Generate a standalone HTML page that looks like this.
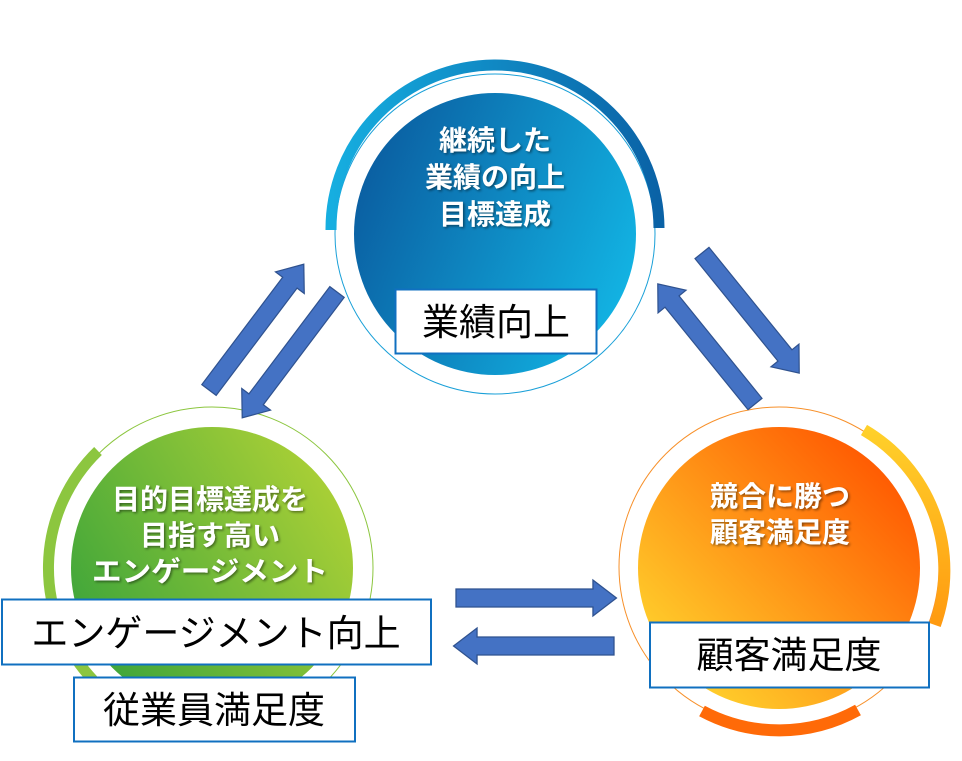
<!DOCTYPE html>
<html><head><meta charset="utf-8"><style>
body{margin:0;background:#fff;}
svg{display:block;font-family:"Liberation Sans","Noto Sans CJK JP",sans-serif;}
.w{fill:#fff;font-weight:bold;font-size:28px;text-anchor:middle;filter:url(#sh);}
.b{font-size:37px;text-anchor:middle;fill:#000;}
</style></head><body>
<svg width="962" height="761" viewBox="0 0 962 761">
<defs>
<filter id="sh" x="-10%" y="-20%" width="120%" height="150%"><feDropShadow dx="1.5" dy="1.5" stdDeviation="1.2" flood-color="#000" flood-opacity="0.45"/></filter>
<linearGradient id="gb" x1="0" y1="0.2" x2="1" y2="0.6"><stop offset="0" stop-color="#0a5a9e"/><stop offset="1" stop-color="#12b2e2"/></linearGradient>
<linearGradient id="gba" x1="0" y1="0" x2="1" y2="0"><stop offset="0" stop-color="#16aee0"/><stop offset="1" stop-color="#0a62a6"/></linearGradient>
<linearGradient id="gg" x1="0" y1="0.8" x2="1" y2="0.2"><stop offset="0" stop-color="#38a33a"/><stop offset="1" stop-color="#b0d236"/></linearGradient>
<linearGradient id="go" x1="0.1" y1="0.9" x2="0.9" y2="0.1"><stop offset="0" stop-color="#ffd52e"/><stop offset="1" stop-color="#ff5500"/></linearGradient>
<linearGradient id="goa" x1="0" y1="0" x2="0" y2="1"><stop offset="0" stop-color="#ffd02a"/><stop offset="1" stop-color="#ff9a10"/></linearGradient>
<g id="arr"><polygon points="0,-9 128,-9 128,-18 150,0 128,18 128,9 0,9" fill="#4472c4" stroke="#2f528f" stroke-width="1.2"/></g>
</defs>

<circle cx="495" cy="234" r="160" fill="none" stroke="#1aa0d8" stroke-width="1"/>
<path d="M331,230 A164,164 0 0 1 659,228" fill="none" stroke="url(#gba)" stroke-width="11"/>
<circle cx="495" cy="234" r="141" fill="url(#gb)"/>

<circle cx="212" cy="568" r="161" fill="none" stroke="#8cc63f" stroke-width="1"/>
<path d="M98,451 A163,163 0 0 0 93,680" fill="none" stroke="#8cc63f" stroke-width="11"/>
<circle cx="212" cy="568" r="141" fill="url(#gg)"/>

<circle cx="779" cy="567" r="160" fill="none" stroke="#f7902a" stroke-width="1"/>
<path d="M864,430 A163,163 0 0 1 935,625" fill="none" stroke="url(#goa)" stroke-width="12"/>
<path d="M702,711 A163,163 0 0 0 858,710" fill="none" stroke="#ff6a08" stroke-width="12"/>
<circle cx="779" cy="568" r="141" fill="url(#go)"/>

<use href="#arr" transform="translate(209,390) rotate(-53) scale(1.05,1)"/>
<use href="#arr" transform="translate(337,292) rotate(127) scale(1.05,1)"/>
<use href="#arr" transform="translate(702,253) rotate(51) scale(1.03,1)"/>
<use href="#arr" transform="translate(755,404) rotate(-129) scale(1.03,1)"/>
<use href="#arr" transform="translate(456,598) scale(1.07,1)"/>
<use href="#arr" transform="translate(614,646) rotate(180) scale(1.07,1)"/>

<text class="w" x="495" y="150">継続した</text>
<text class="w" x="495" y="187">業績の向上</text>
<text class="w" x="495" y="224">目標達成</text>
<text class="w" x="210" y="509">目的目標達成を</text>
<text class="w" x="210" y="545">目指す高い</text>
<text class="w" x="210" y="581" textLength="236" lengthAdjust="spacingAndGlyphs">エンゲージメント</text>
<text class="w" x="780" y="506">競合に勝つ</text>
<text class="w" x="780" y="542">顧客満足度</text>

<rect x="395.5" y="289.5" width="201" height="64" fill="#fff" stroke="#1070c0" stroke-width="2"/>
<text class="b" x="496" y="335">業績向上</text>
<rect x="2" y="599.5" width="429" height="65" fill="#fff" stroke="#1070c0" stroke-width="2"/>
<text class="b" x="216" y="646">エンゲージメント向上</text>
<rect x="74" y="677.5" width="281" height="64" fill="#fff" stroke="#1070c0" stroke-width="2"/>
<text class="b" x="214" y="723">従業員満足度</text>
<rect x="650" y="622.5" width="279" height="65" fill="#fff" stroke="#1070c0" stroke-width="2"/>
<text class="b" x="789" y="668">顧客満足度</text>
</svg>
</body></html>
